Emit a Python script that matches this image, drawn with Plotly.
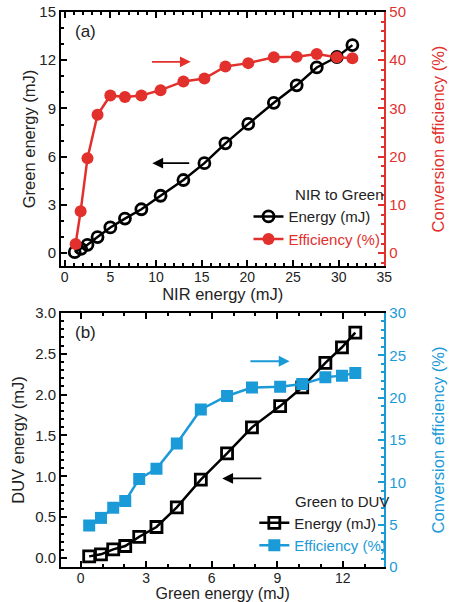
import plotly.graph_objects as go
from plotly.subplots import make_subplots

# Panel (a): NIR to Green
nir_energy = [1.1, 1.8, 2.5, 3.6, 5.0, 6.6, 8.4, 10.5, 13.0, 15.3, 17.6, 20.1, 22.9, 25.4, 27.6, 29.8, 31.5]
green_energy = [0.06, 0.27, 0.52, 1.0, 1.6, 2.15, 2.73, 3.57, 4.55, 5.6, 6.83, 8.04, 9.35, 10.44, 11.55, 12.2, 12.94]
nir_eff_x = [1.2, 1.75, 2.5, 3.6, 5.0, 6.6, 8.4, 10.5, 13.0, 15.3, 17.6, 20.1, 22.9, 25.4, 27.6, 29.8, 31.5]
green_eff = [1.9, 8.7, 19.7, 28.7, 32.7, 32.4, 32.7, 33.8, 35.6, 36.2, 38.7, 39.4, 40.6, 40.7, 41.3, 40.6, 40.4]

# Panel (b): Green to DUV
green_in = [0.39, 0.93, 1.49, 2.04, 2.68, 3.47, 4.4, 5.5, 6.7, 7.84, 9.13, 10.14, 11.2, 11.96, 12.57]
duv_energy = [0.02, 0.045, 0.106, 0.147, 0.26, 0.38, 0.62, 0.96, 1.28, 1.6, 1.86, 2.09, 2.39, 2.58, 2.76]
duv_eff = [4.9, 5.8, 7.0, 7.8, 10.4, 11.6, 14.6, 18.6, 20.2, 21.2, 21.3, 21.6, 22.4, 22.6, 22.9]

RED = "#e2302d"
BLUE = "#1b9ad8"
FONT = "Liberation Sans, Arial, sans-serif"

fig = make_subplots(rows=2, cols=1, specs=[[{"secondary_y": True}], [{"secondary_y": True}]],
                    vertical_spacing=0.0846)

fig.add_trace(go.Scatter(x=nir_energy, y=green_energy, mode="lines+markers", name="Energy (mJ)",
                         line=dict(color="black", width=2.5),
                         marker=dict(symbol="circle-open", size=11, color="black", line=dict(width=2.8)),
                         legend="legend"), row=1, col=1, secondary_y=False)
fig.add_trace(go.Scatter(x=nir_eff_x, y=green_eff, mode="lines+markers",
                         name="<span style='color:%s'>Efficiency (%%)</span>" % RED,
                         line=dict(color=RED, width=2.5),
                         marker=dict(symbol="circle", size=12, color=RED),
                         legend="legend"), row=1, col=1, secondary_y=True)

fig.add_trace(go.Scatter(x=green_in, y=duv_energy, mode="lines+markers", name="Energy (mJ)",
                         line=dict(color="black", width=2.5),
                         marker=dict(symbol="square-open", size=11, color="black", line=dict(width=2.8)),
                         legend="legend2"), row=2, col=1, secondary_y=False)
fig.add_trace(go.Scatter(x=green_in, y=duv_eff, mode="lines+markers",
                         name="<span style='color:%s'>Efficiency (%%)</span>" % BLUE,
                         line=dict(color=BLUE, width=2.5),
                         marker=dict(symbol="square", size=12, color=BLUE),
                         legend="legend2"), row=2, col=1, secondary_y=True)

tickfont = dict(family=FONT, size=15, color="#222")
xtickfont = dict(family=FONT, size=14, color="#222")
titlefont = dict(family=FONT, size=16.5, color="#222")

common_x = dict(showline=True, linecolor="black", linewidth=2, mirror="ticks", ticks="inside",
                ticklen=6, tickwidth=2, tickcolor="black", showgrid=False, zeroline=False,
                tickfont=xtickfont, title_standoff=0, ticklabelstandoff=-3)

fig.update_xaxes(range=[-0.4, 35], dtick=5, minor=dict(dtick=1, ticks="inside", ticklen=3, tickcolor="black", tickwidth=1.5),
                 title_text="NIR energy (mJ)", title_font=titlefont, row=1, col=1, **common_x)
fig.update_xaxes(range=[-0.9, 13.9], dtick=3, tick0=0, minor=dict(dtick=1, ticks="inside", ticklen=3, tickcolor="black", tickwidth=1.5),
                 title_text="Green energy (mJ)", title_font=dict(family=FONT, size=16, color="#222"),
                 row=2, col=1, **common_x)

common_y = dict(showline=True, linewidth=2, ticks="inside", ticklen=6, tickwidth=2,
                showgrid=False, zeroline=False)

fig.update_yaxes(range=[-0.8, 15], dtick=3, linecolor="black", tickcolor="black",
                 minor=dict(dtick=1, ticks="inside", ticklen=3, tickcolor="black", tickwidth=1.5),
                 title_text="Green energy (mJ)", tickfont=tickfont, title_font=titlefont, title_standoff=0,
                 row=1, col=1, secondary_y=False, **common_y)
fig.update_yaxes(range=[-8 / 3, 50], dtick=10, linecolor=RED, tickcolor=RED,
                 minor=dict(dtick=2, ticks="inside", ticklen=3, tickcolor=RED, tickwidth=1.5),
                 title_text="Conversion efficiency (%)", tickfont=dict(family=FONT, size=15, color=RED),
                 title_font=dict(family=FONT, size=16.5, color=RED), title_standoff=27,
                 row=1, col=1, secondary_y=True, **common_y)
fig.update_yaxes(range=[-0.11, 3.0], dtick=0.5, tickformat=".1f", linecolor="black", tickcolor="black",
                 minor=dict(dtick=0.1, ticks="inside", ticklen=3, tickcolor="black", tickwidth=1.5),
                 title_text="DUV energy (mJ)", tickfont=tickfont, title_font=titlefont, title_standoff=6,
                 row=2, col=1, secondary_y=False, **common_y)
fig.update_yaxes(range=[0, 30], dtick=5, linecolor=BLUE, tickcolor=BLUE,
                 minor=dict(dtick=1, ticks="inside", ticklen=3, tickcolor=BLUE, tickwidth=1.5),
                 title_text="Conversion efficiency (%)", tickfont=dict(family=FONT, size=15, color=BLUE),
                 title_font=dict(family=FONT, size=16.5, color=BLUE), title_standoff=27,
                 row=2, col=1, secondary_y=True, **common_y)

# Arrows (data coordinates)
arrows = [
    dict(x=13.8, y=11.9 / 15 * 50, ax=9.4, ay=11.9 / 15 * 50, xref="x", yref="y2", axref="x", ayref="y2", color=RED),
    dict(x=9.6, y=5.6, ax=13.8, ay=5.6, xref="x", yref="y", axref="x", ayref="y", color="black"),
    dict(x=9.56, y=24.3, ax=7.7, ay=24.3, xref="x2", yref="y4", axref="x2", ayref="y4", color=BLUE),
    dict(x=6.48, y=0.975, ax=8.34, ay=0.975, xref="x2", yref="y3", axref="x2", ayref="y3", color="black"),
]
for a in arrows:
    fig.add_annotation(x=a["x"], y=a["y"], ax=a["ax"], ay=a["ay"], xref=a["xref"], yref=a["yref"],
                       axref=a["axref"], ayref=a["ayref"], showarrow=True, arrowhead=2, arrowsize=1.2,
                       arrowwidth=1.8, arrowcolor=a["color"], text="")

fig.add_annotation(text="(a)", x=0.035, y=0.985, xref="paper", yref="paper", showarrow=False,
                   xanchor="left", yanchor="top", font=dict(family=FONT, size=17, color="#222"))
fig.add_annotation(text="(b)", x=0.035, y=0.443, xref="paper", yref="paper", showarrow=False,
                   xanchor="left", yanchor="top", font=dict(family=FONT, size=17, color="#222"))

legfont = dict(family=FONT, size=15, color="#222")
fig.update_layout(
    width=456, height=602,
    margin=dict(l=61, r=51, t=12, b=35, autoexpand=False),
    plot_bgcolor="white", paper_bgcolor="white",
    showlegend=True,
    legend=dict(x=0.545, y=0.696, xanchor="left", yanchor="top", bgcolor="rgba(0,0,0,0)",
                font=legfont, title=dict(text="NIR to Green", font=legfont, side="top right"),
                tracegroupgap=0, itemwidth=30),
    legend2=dict(x=0.562, y=0.144, xanchor="left", yanchor="top", bgcolor="rgba(0,0,0,0)",
                 font=legfont, title=dict(text="Green to DUV", font=legfont, side="top right"),
                 tracegroupgap=0, itemwidth=30),
)

# Remove the browser's default 8px body margin so the figure fills the window exactly.
fig.write_html("out.html", config={"displayModeBar": False},
               post_script="document.body.style.margin='0px';")
